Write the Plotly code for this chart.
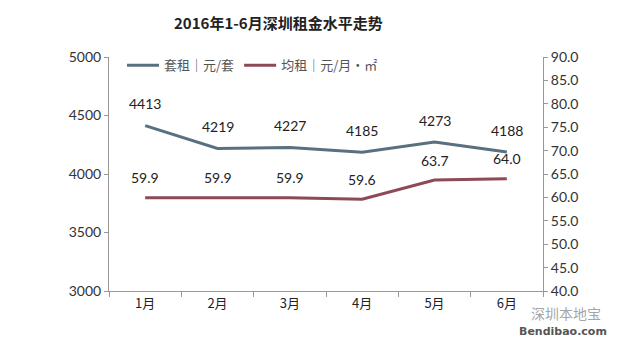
import plotly.graph_objects as go

months = ["1月", "2月", "3月", "4月", "5月", "6月"]
rent_per_unit = [4413, 4219, 4227, 4185, 4273, 4188]        # 套租 元/套
rent_per_sqm = [59.9, 59.9, 59.9, 59.6, 63.7, 64.0]          # 均租 元/月·㎡
left_ticks = [3000, 3500, 4000, 4500, 5000]
right_ticks = [40, 45, 50, 55, 60, 65, 70, 75, 80, 85, 90]

BLUE = "#58707f"
RED = "#8c4a57"
FONT = "Lato, Noto Sans CJK SC, sans-serif"
CJK = "Noto Sans CJK SC, sans-serif"

fig = go.Figure()
fig.add_trace(go.Scatter(
    x=months, y=rent_per_unit, name="套租｜元/套", mode="lines",
    line=dict(color=BLUE, width=3), yaxis="y",
))
fig.add_trace(go.Scatter(
    x=months, y=rent_per_sqm, name="均租｜元/月•㎡", mode="lines",
    line=dict(color=RED, width=3), yaxis="y2",
))

annotations = []
for m, v in zip(months, rent_per_unit):
    annotations.append(dict(x=m, y=v, xref="x", yref="y", text=str(v),
                            showarrow=False, yshift=22,
                            font=dict(family=FONT, size=14, color="#222")))
for m, v in zip(months, rent_per_sqm):
    annotations.append(dict(x=m, y=v, xref="x", yref="y2", text=f"{v:.1f}",
                            showarrow=False, yshift=20,
                            font=dict(family=FONT, size=14, color="#222")))

# free texts, positioned in pixels (x from left, y from top)
free_texts = [
    dict(x=278, y=22, text="<b>2016年1-6月深圳租金水平走势</b>",
         font=dict(family=CJK, size=15, color="#222")),
    dict(x=566, y=313, text="深圳本地宝",
         font=dict(family=CJK, size=14, color="rgba(140,140,140,0.8)")),
    dict(x=563, y=331, text="<b>Bendibao.com</b>",
         font=dict(family="DejaVu Sans, sans-serif", size=11, color="#555")),
]

W, H = 640, 340
L, R, T, B = 109, 97, 57, 49
pw, ph = W - L - R, H - T - B
for t in free_texts:
    annotations.append(dict(x=(t["x"] - L) / pw, y=(H - t["y"] - B) / ph,
                            xref="paper", yref="paper", xanchor="center", yanchor="middle",
                            text=t["text"], font=t["font"], showarrow=False))

fig.update_layout(
    width=W, height=H,
    margin=dict(l=L, r=R, t=T, b=B),
    paper_bgcolor="white", plot_bgcolor="white",
    showlegend=True,
    legend=dict(orientation="h", x=0.03, y=0.965, xanchor="left", yanchor="middle",
                font=dict(family=CJK, size=13, color="#555"), itemwidth=32,
                bgcolor="rgba(0,0,0,0)", tracegroupgap=0),
    xaxis=dict(type="category", range=[-0.5, 5.5], showline=True, linecolor="#999", linewidth=1,
               ticks="outside", ticklen=5, tickcolor="#999", tickson="boundaries",
               showgrid=False, tickfont=dict(family=CJK, size=13, color="#222")),
    yaxis=dict(range=[3000, 5000], tickvals=left_ticks, showline=True, linecolor="#999",
               ticks="outside", ticklen=4, tickcolor="#999", showgrid=False, zeroline=False,
               tickfont=dict(family=FONT, size=14, color="#333")),
    yaxis2=dict(range=[40, 90], tickvals=right_ticks, ticktext=[f"{t:.1f}" for t in right_ticks],
                overlaying="y", side="right", showline=True, linecolor="#999",
                ticks="outside", ticklen=4, tickcolor="#999", showgrid=False, zeroline=False,
                tickfont=dict(family=FONT, size=14, color="#333")),
    annotations=annotations,
)

fig.write_html("out.html")
